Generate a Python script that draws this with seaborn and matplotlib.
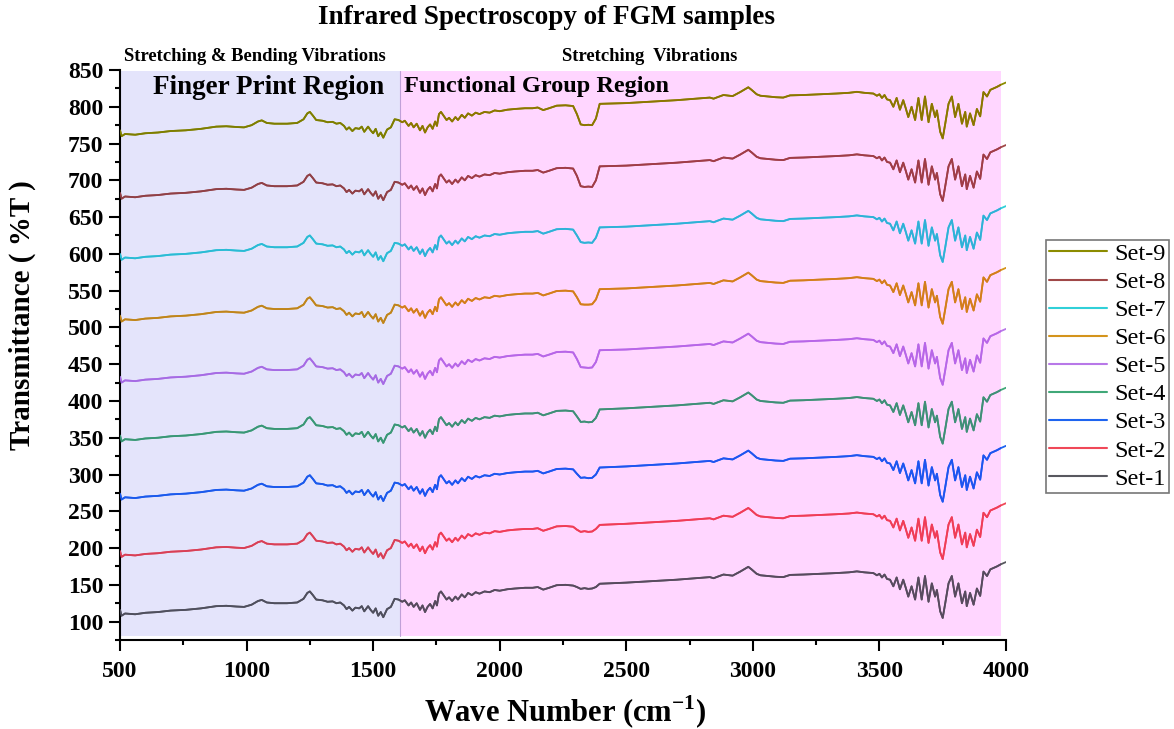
import matplotlib
matplotlib.use("Agg")
import matplotlib.pyplot as plt
import numpy as np
import pandas as pd
import seaborn as sns
from matplotlib.ticker import MultipleLocator
from matplotlib.lines import Line2D
from matplotlib.patches import Rectangle

# ---------------- data ----------------
# Base spectrum (Set-1), wavenumber in cm-1 and transmittance
wavenumber = [500, 506, 520, 560, 600, 650, 700, 760, 820, 880, 920, 960, 990,
              1020, 1045, 1060, 1080, 1110, 1160, 1200, 1225, 1240, 1250, 1262,
              1275, 1300, 1320, 1340, 1355, 1370, 1385, 1395, 1405, 1418, 1430,
              1445, 1455, 1465, 1480, 1490, 1500, 1510, 1520, 1530, 1540, 1555,
              1570, 1585, 1600, 1615, 1625, 1640, 1650, 1660, 1672, 1685, 1695,
              1705, 1715, 1725, 1735, 1745, 1752, 1760, 1768, 1778, 1790, 1800,
              1812, 1825, 1835, 1850, 1862, 1875, 1890, 1905, 1920, 1940, 1960,
              1980, 2000, 2030, 2060, 2100, 2130, 2150, 2172, 2195, 2225, 2260]
base_T = [116, 108, 111, 110, 112, 113, 115, 116, 118, 121, 121.5, 120.5, 120,
          123, 128, 129.5, 126, 125, 125, 126, 131, 139, 141, 136,
          130, 129, 127, 127.5, 125, 126, 122, 117, 120, 115, 119,
          118, 121, 114, 121, 116, 112, 118, 108, 113, 106, 117,
          120, 131, 130, 127, 129, 122, 126, 120, 125, 116, 122,
          113, 120, 124, 118, 128, 122, 138, 141, 136, 130, 133,
          128, 134, 130, 137, 133, 139, 136, 140, 138, 141, 140,
          143, 142, 144, 145, 146, 146, 147, 143.5, 146, 149.5, 150]

# CO2 band window (differs for each set), values in the Set-1 frame
co2_wn = [2290, 2305, 2320, 2335, 2350, 2365, 2380, 2395]
co2_T = {
    "Set-1": [149, 147, 144.5, 145.5, 144.5, 145, 147, 151.5],
    "Set-2": [149, 145, 142, 143, 142, 142.5, 146, 151.5],
    "Set-3": [149, 143, 137.5, 138, 137, 137.5, 142, 151.5],
    "Set-4": [149, 142, 134.5, 135, 134, 134.5, 140, 151.5],
    "Set-5": [149, 140, 129, 128.5, 128, 128.5, 136, 152],
    "Set-6": [149, 141, 131.5, 131, 131, 131.5, 138, 152],
    "Set-7": [149, 141, 132, 131, 131.5, 131, 138, 152],
    "Set-8": [149, 139, 125, 124, 124.5, 124, 133, 152],
    "Set-9": [149, 138, 124, 123, 123.5, 123, 132, 152],
}

tail_wn = [2500, 2600, 2700, 2790, 2830, 2845, 2860, 2884, 2920, 2950, 2970,
           2982, 2995, 3015, 3030, 3060, 3090, 3120, 3147, 3200, 3279, 3330,
           3380, 3411, 3440, 3476, 3490, 3500, 3510, 3520, 3530, 3542, 3555,
           3568, 3581, 3594, 3604, 3614, 3627, 3641, 3654, 3667, 3680, 3694,
           3707, 3720, 3727, 3740, 3750, 3760, 3773, 3786, 3799, 3812, 3826,
           3839, 3845, 3858, 3872, 3885, 3898, 3911, 3925, 3938, 3964, 3980,
           4000]
tail_T = [153, 155, 157, 159.4, 160.5, 159, 161, 164, 162.5, 168, 172,
          174.5, 171, 165, 163, 162, 161, 160.5, 163.5, 164, 165.2, 166,
          167, 168.3, 167, 166, 163, 165, 160, 164, 158, 157, 148,
          160, 144, 157, 146, 134, 148, 130, 160, 130, 162, 127,
          152, 134, 143, 114, 105, 125, 152, 162, 134, 152, 125,
          141, 121, 139, 123, 145, 135, 168, 162, 171, 175, 178,
          181]

set_names = ["Set-1", "Set-2", "Set-3", "Set-4", "Set-5",
             "Set-6", "Set-7", "Set-8", "Set-9"]
offsets = [0, 80, 158, 237, 317, 400, 484, 567, 652]
colors = ["#58585f", "#f04858", "#1e64f0", "#40a878", "#b878e8",
          "#d4941c", "#30d0d8", "#a04848", "#8c8c00"]

x_ticks = [500, 1000, 1500, 2000, 2500, 3000, 3500, 4000]
y_ticks = [100, 150, 200, 250, 300, 350, 400, 450, 500, 550, 600, 650, 700,
           750, 800, 850]

# ---------------- build long table ----------------
rows = []
for name, off in zip(set_names, offsets):
    wn_all = wavenumber + co2_wn + tail_wn
    t_all = base_T + co2_T[name] + tail_T
    for w, t in zip(wn_all, t_all):
        rows.append({"wn": w, "T": t + off, "set": name})
df = pd.DataFrame(rows)

# ---------------- style ----------------
sns.set_style("ticks")
plt.rcParams["font.family"] = ["Liberation Serif", "DejaVu Serif"]
plt.rcParams["mathtext.fontset"] = "custom"
plt.rcParams["mathtext.rm"] = "Liberation Serif:bold"
plt.rcParams["mathtext.bf"] = "Liberation Serif:bold"
for k in ["text.color", "axes.labelcolor", "xtick.color", "ytick.color",
          "axes.edgecolor"]:
    plt.rcParams[k] = "black"

fig = plt.figure(figsize=(11.74, 7.29), dpi=100)
ax = fig.add_axes([120 / 1174, 1 - 640 / 729, (1006 - 120) / 1174, (640 - 70) / 729])

# shaded regions
fp_rect = Rectangle((500, 80), 1606 - 500, 848 - 80, facecolor="#e4e4fb",
                    edgecolor="none", zorder=0)
fg_rect = Rectangle((1606, 80), 3981 - 1606, 848 - 80, facecolor="#ffd6ff",
                    edgecolor="none", zorder=0)
ax.add_patch(fp_rect)
ax.add_patch(fg_rect)
ax.plot([1606, 1606], [80, 848], color="#c0a0d8", lw=0.8, zorder=0.5)

palette = dict(zip(set_names, colors))


def mult(c, bg):
    r, g, b = matplotlib.colors.to_rgb(c)
    R, G, B = matplotlib.colors.to_rgb(bg)
    return (r * R, g * G, b * B)


layers = [(None, palette),
          (fp_rect, {k: mult(v, "#e4e4fb") for k, v in palette.items()}),
          (fg_rect, {k: mult(v, "#ffd6ff") for k, v in palette.items()})]
for clip, pal in layers:
    n0 = len(ax.lines)
    sns.lineplot(data=df, x="wn", y="T", hue="set", palette=pal, sort=False,
                 estimator=None, lw=1.3, legend=False, ax=ax, zorder=2)
    if clip is not None:
        for ln in ax.lines[n0:]:
            ln.set_clip_path(clip)
            ln.set_zorder(3)

ax.set_xlim(500, 4000)
ax.set_ylim(75, 850)
ax.set_xticks(x_ticks)
ax.set_yticks(y_ticks)
ax.xaxis.set_minor_locator(MultipleLocator(250))
ax.yaxis.set_minor_locator(MultipleLocator(25))
ax.tick_params(which="major", direction="out", length=8, width=1.5,
               labelsize=17, colors="black")
ax.tick_params(axis="x", which="major", pad=7)
ax.tick_params(axis="y", which="major", pad=4)
ax.tick_params(which="minor", direction="out", length=3.5, width=1.5)
for lab in ax.get_xticklabels() + ax.get_yticklabels():
    lab.set_fontweight("bold")
sns.despine(ax=ax)
for s in ["left", "bottom"]:
    ax.spines[s].set_linewidth(1.5)
    ax.spines[s].set_color("black")
ax.set_xlabel("")
ax.set_ylabel("")

# texts
fig.text(546 / 1174, 1 - 18 / 729, "Infrared Spectroscopy of FGM samples",
         ha="center", va="center", fontsize=19.5, fontweight="bold")
ax.text(516, 857, "Stretching & Bending Vibrations", ha="left", va="bottom",
        fontsize=13.4, fontweight="bold", clip_on=False)
ax.text(2246, 857, "Stretching  Vibrations", ha="left", va="bottom",
        fontsize=13.4, fontweight="bold", clip_on=False)
ax.text(630, 826, "Finger Print Region", ha="left", va="center",
        fontsize=19.5, fontweight="bold", zorder=4)
ax.text(1622, 827, "Functional Group Region", ha="left", va="center",
        fontsize=17.5, fontweight="bold", zorder=4)
fig.text(565 / 1174, 1 - 712 / 729, r"Wave Number (cm$^{-1}$)", ha="center",
         va="center", fontsize=22, fontweight="bold")
fig.text(22 / 1174, 1 - 315 / 729, "Transmittance ( %T )", ha="center",
         va="center", rotation=90, fontsize=21, fontweight="bold")

# legend
handles = [Line2D([], [], color=palette[n], lw=1.5) for n in set_names[::-1]]
leg = fig.legend(handles, set_names[::-1], loc="upper left",
                 bbox_to_anchor=(1046 / 1174, 1 - 240 / 729), frameon=True,
                 fancybox=False, fontsize=17.5, handlelength=2.4,
                 handletextpad=0.3, labelspacing=0.25, borderpad=0.12,
                 borderaxespad=0)
leg.get_frame().set_edgecolor("#555555")
leg.get_frame().set_linewidth(1.2)

fig.savefig("out.png", dpi=100)
